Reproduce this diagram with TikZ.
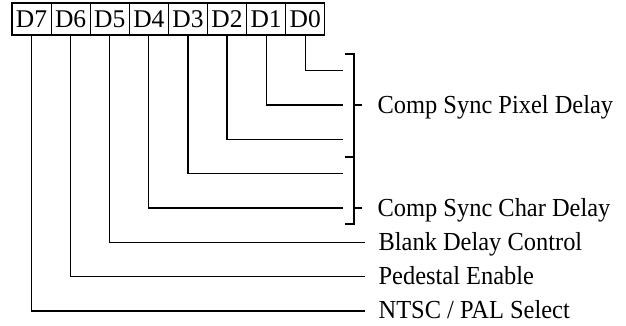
\documentclass[tikz,border=0pt]{standalone}
\usepackage{graphicx}
\usepackage{fontspec}
\setmainfont{Liberation Serif}
\newcommand{\lbltext}[1]{\scalebox{0.94}[1]{\fontsize{26}{30}\selectfont #1}}
\begin{document}
\begin{tikzpicture}[x=1pt,y=-1pt,line width=1.2pt,
  cell/.style={draw,minimum width=39.1pt,minimum height=32pt,inner sep=0pt,font=\fontsize{25.5}{30}\selectfont},
  lbl/.style={anchor=base west,inner sep=0pt}]
\useasboundingbox (0,0) rectangle (626,325);
\foreach \i in {7,...,0} {
  \node[cell] (d\i) at ({12+39.1*(7-\i)+19.55},19) {D\i};
}
% line end points
\foreach \i/\y in {0/70.5,1/105,2/139.3,3/173.6,4/208} {
  \coordinate (e\i) at (343,\y);
}
\foreach \i/\y in {5/242.3,6/276.6,7/311} {
  \coordinate (e\i) at (365,\y);
}
\foreach \i in {0,...,7} {
  \draw (d\i.south) |- (e\i);
}
% brackets
\coordinate (bt) at (345,54);
\coordinate (bm) at (345,157);
\coordinate (bb) at (345,224);
\draw (bt) -- (354,54) -- (354,224) -- (bb);
\draw (bm) -- (354,157);
\coordinate (t1) at (362,105);
\coordinate (t2) at (362,208);
\draw (354,105) -- (t1);
\draw (354,208) -- (t2);
% labels
\node[lbl] (l1) at (377,113.2) {\lbltext{Comp Sync Pixel Delay}};
\node[lbl] (l4) at (377,216.2) {\lbltext{Comp Sync Char Delay}};
\node[lbl] (l5) at (378,250.4) {\lbltext{Blank Delay Control}};
\node[lbl] (l6) at (378,284.7) {\lbltext{Pedestal Enable}};
\node[lbl] (l7) at (378,318.5) {\lbltext{NTSC / PAL Select}};
\end{tikzpicture}
\end{document}
